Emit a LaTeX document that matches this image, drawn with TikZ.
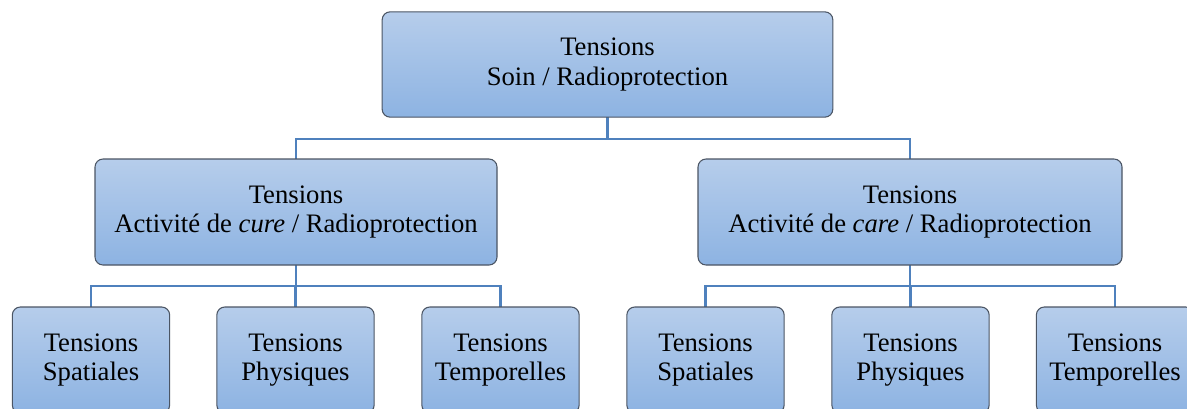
\documentclass[tikz,border=0pt]{standalone}
\usepackage{fontspec}
\setmainfont{Liberation Serif}
\usepackage{tikz}
\usetikzlibrary{calc}

\definecolor{boxtop}{RGB}{182,205,235}
\definecolor{boxbottom}{RGB}{141,179,226}
\definecolor{boxedge}{RGB}{75,85,100}
\definecolor{linkblue}{RGB}{79,129,189}

\begin{document}
\begin{tikzpicture}[
    x=0.75pt, y=-0.75pt,
    tension box/.style={draw=boxedge, line width=0.8pt, rounded corners=6pt,
        top color=boxtop, bottom color=boxbottom, inner sep=0pt,
        align=center, font=\fontsize{20}{22}\selectfont},
    link/.style={draw=linkblue, line width=2pt},
    every node/.style={color=black}
    ]

    \useasboundingbox (0,0) rectangle (1187,408);

    % junctions
    \coordinate (jTop) at (607.5,139);
    \coordinate (jCure) at (296,286);
    \coordinate (jCare) at (910,286);

    % links
    \draw[link] (607.5,117) -- (jTop);
    \draw[link] (jTop) -| (296,159);
    \draw[link] (jTop) -| (910,159);
    \draw[link] (296,265) -- (jCure);
    \draw[link] (jCure) -| (91,307);
    \draw[link] (jCure) -| (295.5,307);
    \draw[link] (jCure) -| (500.5,307);
    \draw[link] (910,265) -- (jCare);
    \draw[link] (jCare) -| (705.5,307);
    \draw[link] (jCare) -| (910.5,307);
    \draw[link] (jCare) -| (1115,307);

    % top
    \node[tension box, minimum width=338pt, minimum height=79pt] (soin) at (607.5,64.5)
        {Tensions\\Soin / Radioprotection};

    % middle
    \node[tension box, minimum width=301.5pt, minimum height=79.5pt] (cure) at (296,212)
        {Tensions\\Activité de \textit{cure} / Radioprotection};
    \node[tension box, minimum width=318pt, minimum height=79.5pt] (care) at (910,212)
        {Tensions\\Activité de \textit{care} / Radioprotection};

    % bottom
    \node[tension box, minimum width=118pt, minimum height=79.5pt] (cureSpat) at (91,360)
        {Tensions\\Spatiales};
    \node[tension box, minimum width=118pt, minimum height=79.5pt] (curePhys) at (295.5,360)
        {Tensions\\Physiques};
    \node[tension box, minimum width=118pt, minimum height=79.5pt] (cureTemp) at (500.5,360)
        {Tensions\\Temporelles};
    \node[tension box, minimum width=118pt, minimum height=79.5pt] (careSpat) at (705.5,360)
        {Tensions\\Spatiales};
    \node[tension box, minimum width=118pt, minimum height=79.5pt] (carePhys) at (910.5,360)
        {Tensions\\Physiques};
    \node[tension box, minimum width=118pt, minimum height=79.5pt] (careTemp) at (1115,360)
        {Tensions\\Temporelles};

\end{tikzpicture}
\end{document}
